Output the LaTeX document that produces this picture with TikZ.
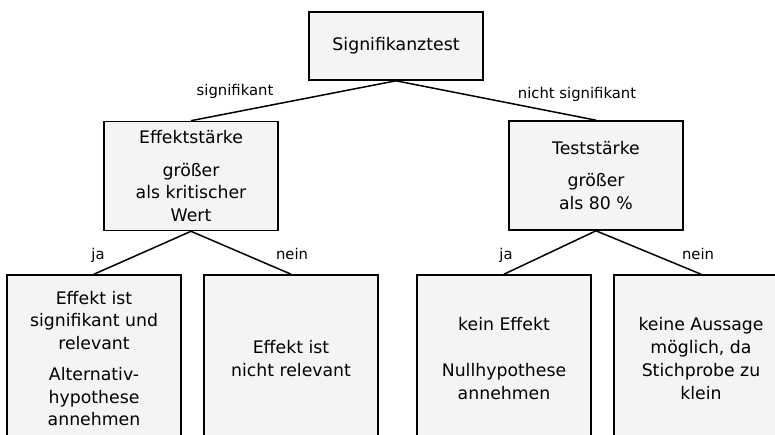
\documentclass[tikz,border=0pt]{standalone}
\usepackage{fontspec}
\setmainfont{DejaVu Sans}
\begin{document}
\begin{tikzpicture}[x=1pt,y=-1pt,
  box/.style={draw=black, line width=1.6pt, fill=boxgray, rectangle, align=center,
    minimum width=174pt, inner sep=0pt, font=\fontsize{17.3}{22.7}\selectfont},
  lab/.style={font=\fontsize{14.8}{18}\selectfont, inner sep=0pt, anchor=base},
  conn/.style={line width=1.5pt, black}]
\definecolor{boxgray}{HTML}{F4F4F4}
\useasboundingbox (0,0) rectangle (775,434);
\clip (0,0) rectangle (775,434);
\node[box, minimum height=68pt] (top) at (396,46) {Signifikanztest};
\node[box, minimum height=109pt] (eff) at (191,176) {Effektstärke\\[10pt]größer\\als kritischer\\Wert};
\node[box, minimum height=109pt] (test) at (596,175.5) {Teststärke\\[10pt]größer\\als 80 \%};
\node[box, minimum height=167pt] (b1) at (94,358.5) {Effekt ist\\signifikant und\\relevant\\[8pt]Alternativ-\\hypothese\\annehmen};
\node[box, minimum height=167pt] (b2) at (291,358.5) {Effekt ist\\nicht relevant};
\node[box, minimum height=167pt] (b3) at (504,358.5) {kein Effekt\\[24pt]Nullhypothese\\annehmen};
\node[box, minimum height=167pt] (b4) at (701,358.5) {keine Aussage\\möglich, da\\Stichprobe zu\\klein};
\draw[conn] (top.south) -- (eff.north);
\draw[conn] (top.south) -- (test.north);
\draw[conn] (eff.south) -- (b1.north);
\draw[conn] (eff.south) -- (b2.north);
\draw[conn] (test.south) -- (b3.north);
\draw[conn] (test.south) -- (b4.north);
\node[lab] (l1) at (235,95) {signifikant};
\node[lab] (l2) at (577,98) {nicht signifikant};
\node[lab] (l3) at (98,259) {ja};
\node[lab] (l4) at (292,259) {nein};
\node[lab] (l5) at (506,259) {ja};
\node[lab] (l6) at (698,259) {nein};
\end{tikzpicture}
\end{document}
